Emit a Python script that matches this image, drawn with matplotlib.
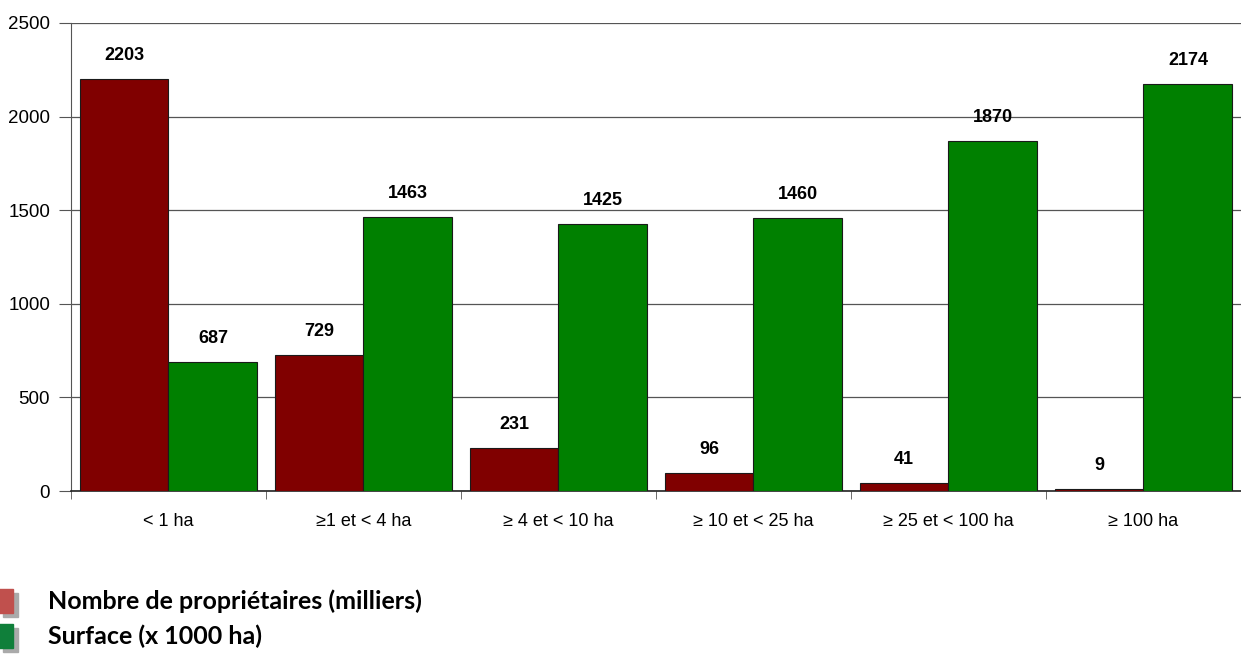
import matplotlib.pyplot as plt
import matplotlib.patches as mpatches
import numpy as np

categories = ['< 1 ha', '≥1 et < 4 ha', '≥ 4 et < 10 ha', '≥ 10 et < 25 ha',
              '≥ 25 et < 100 ha', '≥ 100 ha']
proprietaires = [2203, 729, 231, 96, 41, 9]
surface = [687, 1463, 1425, 1460, 1870, 2174]
legend_labels = ['Nombre de propriétaires (milliers)', 'Surface (x 1000 ha)']

plt.rcParams['font.family'] = ['Liberation Sans', 'DejaVu Sans']

fig = plt.figure(figsize=(12.41, 6.56), dpi=100)
ax = fig.add_axes([0.0572, 0.2515, 0.9428, 0.7135])

x = np.arange(len(categories))
w = 0.456
ax.bar(x - w / 2, proprietaires, w, color='#800000', edgecolor='#1a1a1a', linewidth=0.8, zorder=3)
ax.bar(x + w / 2, surface, w, color='#008000', edgecolor='#1a1a1a', linewidth=0.8, zorder=3)

for xi, v in zip(x - w / 2, proprietaires):
    ax.text(xi, v + 80, str(v), ha='center', va='bottom', fontsize=13, fontweight='bold')
for xi, v in zip(x + w / 2, surface):
    ax.text(xi, v + 80, str(v), ha='center', va='bottom', fontsize=13, fontweight='bold')

ax.set_xlim(-0.5, len(categories) - 0.5)
ax.set_ylim(0, 2500)
ax.set_yticks(range(0, 2501, 500))
ax.yaxis.grid(True, color='#555555', linewidth=0.9, zorder=0)
ax.set_axisbelow(True)

ax.set_xticks(x)
ax.set_xticklabels(categories, fontsize=13)
ax.set_xticks(np.arange(len(categories) + 1) - 0.5, minor=True)
ax.tick_params(axis='x', which='major', length=0, pad=16)
ax.tick_params(axis='x', which='minor', length=6, color='#555555', direction='out')
ax.tick_params(axis='y', labelsize=13.5, length=9, color='#555555', pad=6)

for side in ['top', 'right']:
    ax.spines[side].set_visible(False)
ax.spines['left'].set_color('#555555')
ax.spines['bottom'].set_color('#222222')
ax.spines['bottom'].set_linewidth(1.2)

# legend drawn below the plot with shadowed squares
colors = ['#c0504d', '#0f7f3a']
ys = [601, 636]
for c, label, yp in zip(colors, legend_labels, ys):
    ybot = 1 - (yp + 12) / 656
    fig.patches.append(mpatches.Rectangle((3 / 1241, ybot - 4 / 656), 15 / 1241, 24 / 656,
                                          transform=fig.transFigure, color='#aaaaaa'))
    fig.patches.append(mpatches.Rectangle((-2 / 1241, ybot), 15 / 1241, 24 / 656,
                                          transform=fig.transFigure, color=c))
    fig.text(48 / 1241, 1 - yp / 656, label, fontsize=18, fontweight='bold',
             family=['Lato', 'DejaVu Sans'], va='center', ha='left')

fig.savefig('out.png', dpi=100)
